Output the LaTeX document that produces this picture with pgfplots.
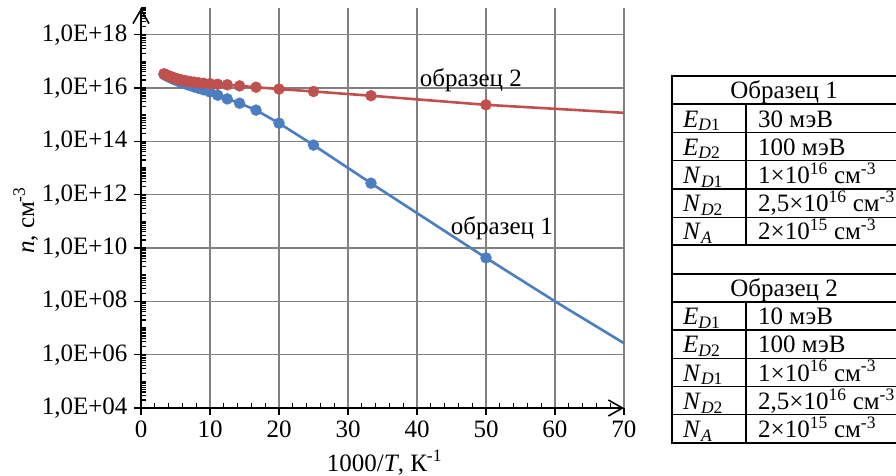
\documentclass[border=0pt]{standalone}
\usepackage{fontspec}
\setmainfont{Liberation Serif}
\usepackage{pgfplots}
\pgfplotsset{compat=1.18}
\usepackage{pgfplotstable}
\usetikzlibrary{arrows.meta}
\definecolor{ser1}{RGB}{74,126,193}
\definecolor{ser2}{RGB}{192,80,77}

% sample 1: x = 1000/T, y = n (cm^-3)
\pgfplotstableread{
x y
3.333 3.311e16
3.448 3.162e16
3.571 3.020e16
3.704 2.884e16
3.846 2.754e16
4.000 2.630e16
4.167 2.512e16
4.348 2.399e16
4.545 2.239e16
4.762 2.138e16
5.000 1.995e16
5.263 1.862e16
5.556 1.738e16
5.882 1.622e16
6.250 1.479e16
6.667 1.349e16
7.143 1.230e16
7.692 1.096e16
8.333 9.77e15
9.091 8.51e15
10.00 7.08e15
11.11 5.37e15
12.50 3.89e15
14.29 2.69e15
16.67 1.48e15
20.00 4.79e14
25.00 7.24e13
33.33 2.69e12
50.00 4.27e9
60.00 1.00e8
70.00 2.69e6
}\sampleone

% sample 2
\pgfplotstableread{
x y
3.333 3.39e16
3.448 3.24e16
3.571 3.16e16
3.704 3.02e16
3.846 2.95e16
4.000 2.82e16
4.167 2.69e16
4.348 2.63e16
4.545 2.51e16
4.762 2.40e16
5.000 2.29e16
5.263 2.19e16
5.556 2.09e16
5.882 2.00e16
6.250 1.91e16
6.667 1.82e16
7.143 1.74e16
7.692 1.66e16
8.333 1.58e16
9.091 1.51e16
10.00 1.45e16
11.11 1.38e16
12.50 1.32e16
14.29 1.20e16
16.67 1.07e16
20.00 9.12e15
25.00 7.41e15
33.33 5.13e15
50.00 2.34e15
60.00 1.66e15
70.00 1.17e15
}\sampletwo

\def\myminor{1e4}
\foreach \d in {4,...,18}{%
  \foreach \m in {2,...,9}{\xdef\myminor{\myminor,\m e\d}}%
  \pgfmathtruncatemacro{\dd}{\d+1}%
  \xdef\myminor{\myminor,1e\dd}%
}

\begin{document}
\begin{tikzpicture}[x=1pt,y=1pt,font=\fontsize{25}{29}\selectfont]
\useasboundingbox (0,0) rectangle (896,475);
\begin{axis}[
  at={(141pt,67pt)}, anchor=south west,
  scale only axis, width=483pt, height=400pt,
  xmin=0, xmax=70, ymin=1e4, ymax=1e19,
  ymode=log, log basis y=10,
  axis lines=left,
  axis line style={line width=1.6pt, -{Straight Barb[length=14pt,width=16pt,line width=1.6pt]}},
  xtick={0,10,...,70}, minor x tick num=4,
  ytick={1e4,1e6,1e8,1e10,1e12,1e14,1e16,1e18},
  yticklabels={{1,0E+04},{1,0E+06},{1,0E+08},{1,0E+10},{1,0E+12},{1,0E+14},{1,0E+16},{1,0E+18}},
  minor ytick/.expanded={\myminor},
  /pgf/number format/assume math mode=true,
  tick label style={font=\fontsize{25}{29}\selectfont},
  yticklabel style={xshift=-10pt},
  xticklabel style={yshift=-9pt},
  xmajorgrids, ymajorgrids,
  grid style={black!50, line width=1.2pt},
  tick style={black, line width=1.1pt},
  tick align=inside,
  major tick length=-7pt, minor tick length=5pt,
  clip=false,
]
\addplot[ser1, line width=2.6pt, no marks] table {\sampleone};
\addplot[only marks, mark=*, mark size=5.5pt, color=ser1, restrict x to domain=0:55] table {\sampleone};
\addplot[ser2, line width=2.6pt, no marks] table {\sampletwo};
\addplot[only marks, mark=*, mark size=5.5pt, color=ser2, restrict x to domain=0:55] table {\sampletwo};
\node at (axis cs:47.8,2.04e16) {образец 2};
\node at (axis cs:52.3,5.5e10) {образец 1};
\end{axis}
\node[rotate=90, anchor=base] at (34,254.5) {\textit{n}, см\textsuperscript{-3}};
\node[anchor=base] at (384.5,4) {1000/\textit{T}, К\textsuperscript{-1}};
% table
\draw[line width=2pt] (672,399) -- (896,399);
\draw[line width=2pt] (672,400) -- (672,31);
\foreach \yy in {370.8,229.6,201.4,173.2,32} {\draw[line width=2pt] (672,\yy) -- (896,\yy);}
\foreach \yy in {342.5,314.3,286.1,257.8,144.9,116.7,88.5,60.2} {\draw[line width=1.3pt] (672,\yy) -- (896,\yy);}
\draw[line width=1.6pt] (746,370.8) -- (746,229.6);
\draw[line width=1.6pt] (746,173.2) -- (746,32);
\begin{scope}[every node/.style={inner sep=0pt}, font=\fontsize{25}{29}\selectfont]
\node[anchor=base] at (784,376.3) {Образец 1};
\node[anchor=base west] at (683,348) {\textit{E}\textsubscript{\textit{D}1}};
\node[anchor=base west] at (758,348) {30 мэВ};
\node[anchor=base west] at (683,319.8) {\textit{E}\textsubscript{\textit{D}2}};
\node[anchor=base west] at (758,319.8) {100 мэВ};
\node[anchor=base west] at (683,291.6) {\textit{N}\textsubscript{\textit{D}1}};
\node[anchor=base west] at (758,291.6) {1×10\textsuperscript{16} см\textsuperscript{-3}};
\node[anchor=base west] at (683,263.3) {\textit{N}\textsubscript{\textit{D}2}};
\node[anchor=base west] at (758,263.3) {2,5×10\textsuperscript{16} см\textsuperscript{-3}};
\node[anchor=base west] at (683,235.1) {\textit{N}\textsubscript{\textit{A}}};
\node[anchor=base west] at (758,235.1) {2×10\textsuperscript{15} см\textsuperscript{-3}};
\node[anchor=base] at (784,178.7) {Образец 2};
\node[anchor=base west] at (683,150.4) {\textit{E}\textsubscript{\textit{D}1}};
\node[anchor=base west] at (758,150.4) {10 мэВ};
\node[anchor=base west] at (683,122.2) {\textit{E}\textsubscript{\textit{D}2}};
\node[anchor=base west] at (758,122.2) {100 мэВ};
\node[anchor=base west] at (683,94) {\textit{N}\textsubscript{\textit{D}1}};
\node[anchor=base west] at (758,94) {1×10\textsuperscript{16} см\textsuperscript{-3}};
\node[anchor=base west] at (683,65.7) {\textit{N}\textsubscript{\textit{D}2}};
\node[anchor=base west] at (758,65.7) {2,5×10\textsuperscript{16} см\textsuperscript{-3}};
\node[anchor=base west] at (683,37.5) {\textit{N}\textsubscript{\textit{A}}};
\node[anchor=base west] at (758,37.5) {2×10\textsuperscript{15} см\textsuperscript{-3}};
\end{scope}
\end{tikzpicture}
\end{document}
